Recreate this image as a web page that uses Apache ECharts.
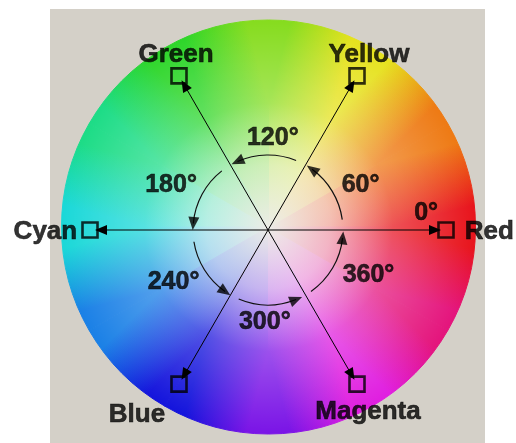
<!DOCTYPE html>
<html>
<head>
<meta charset="utf-8">
<script src="https://cdn.jsdelivr.net/npm/echarts@6/dist/echarts.min.js"></script>
<style>
    html, body {margin: 0; padding: 0; background: #fff;}
    #chart_container {width: 516px; height: 443px;}
</style>
</head>
<body>
<div id="chart_container"></div>
<script>
"use strict";
// hue names and their angles on the wheel (counter-clockwise from the right)
var hueNames = ['Red', 'Yellow', 'Green', 'Cyan', 'Blue', 'Magenta'];
var hueAngles = [0, 60, 120, 180, 240, 300];
// twelve hue stops every 30 degrees round the rim
var wheelColors = ['#e8141c', '#ee7a14', '#e6e21e', '#86dc1e', '#2ed62a', '#1cdc86',
    '#1ad8d8', '#1a80e6', '#1414dc', '#7a14e6', '#e01ee0', '#e4147c'];
// angle labels and the arrowed arcs between the spokes
var degreeLabels = ['0°', '60°', '120°', '180°', '240°', '300°', '360°'];
var arcStarts = [8, 68, 128, 189, 247, 305];
var arcEnds = [54, 114, 175, 235, 292, 354];

// layout (pixels)
var wheelCenter = [268.5, 227], wheelR = 207;
var cx = 268, cy = 230, axisR = 207;
var squareR = 178, arrowR = 167, arcR = 75;
var degreeLabelPos = [[159, 6], [103, 26], [92, 87], [107, 155], [108, 209], [92, 268], [110, 336]];
var nameLabelPos = {
    Red: {position: 'right', distance: 10, offset: [0, 2]},
    Yellow: {position: 'top', distance: 1, offset: [12, 2]},
    Green: {position: 'top', distance: 1, offset: [-3, 2]},
    Cyan: {position: 'left', distance: 4, offset: [0, 2]},
    Blue: {position: 'bottom', distance: 6, offset: [-42, 3]},
    Magenta: {position: 'bottom', distance: 3, offset: [11, 3]}
};

var myChart = echarts.init(document.getElementById('chart_container'));

function rimPoint(deg, r) {
    var a = deg * Math.PI / 180;
    return [wheelCenter[0] + r * Math.cos(a), wheelCenter[1] - r * Math.sin(a)];
}

// wheel slices, each one a linear gradient between two neighbouring hue stops
var step = 360 / wheelColors.length;
var wheelData = wheelColors.map(function (c, i) {
    var p0 = rimPoint(i * step, wheelR * 0.6), p1 = rimPoint((i + 1) * step, wheelR * 0.6);
    var grad = {
        type: 'linear', global: true,
        x: p0[0], y: p0[1], x2: p1[0], y2: p1[1],
        colorStops: [{offset: 0, color: c}, {offset: 1, color: wheelColors[(i + 1) % wheelColors.length]}]
    };
    return {
        value: step,
        itemStyle: {color: grad, borderColor: grad, borderWidth: 1}
    };
});

// arc ring: gaps and drawn segments
var arcData = [];
var last = 0;
for (var i = 0; i < arcStarts.length; i++) {
    arcData.push({value: arcStarts[i] - last, itemStyle: {color: 'transparent'}});
    arcData.push({value: arcEnds[i] - arcStarts[i], itemStyle: {color: '#111'}});
    last = arcEnds[i];
}
arcData.push({value: 360 - last, itemStyle: {color: 'transparent'}});

var series = [
    {
        type: 'pie', silent: true, animation: false, center: wheelCenter, radius: [0, wheelR],
        startAngle: 0, clockwise: false, label: {show: false}, labelLine: {show: false},
        data: wheelData
    },
    {
        type: 'pie', silent: true, animation: false, center: wheelCenter, radius: [0, wheelR],
        label: {show: false}, labelLine: {show: false},
        itemStyle: {borderWidth: 0},
        data: [{
            value: 1,
            itemStyle: {
                color: {
                    type: 'radial', x: 0.5, y: 0.5, r: 0.5,
                    colorStops: [
                        {offset: 0, color: 'rgba(236,236,230,1)'},
                        {offset: 0.3, color: 'rgba(248,248,246,0.7)'},
                        {offset: 0.6, color: 'rgba(255,255,255,0.26)'},
                        {offset: 1, color: 'rgba(255,255,255,0)'}
                    ]
                }
            }
        }]
    },
    {
        type: 'pie', silent: true, animation: false, center: [cx, cy], radius: [arcR - 0.6, arcR + 0.6],
        startAngle: 0, clockwise: false, label: {show: false}, labelLine: {show: false},
        itemStyle: {borderWidth: 0},
        data: arcData
    }
];

// spokes with arrowheads
hueAngles.forEach(function (h) {
    series.push({
        type: 'line', coordinateSystem: 'polar', silent: true, animation: false,
        lineStyle: {color: '#000', width: 1},
        itemStyle: {color: '#000'},
        showSymbol: true,
        data: [
            {value: [0, h], symbol: 'none'},
            {value: [arrowR, h], symbol: 'triangle', symbolSize: [10, 12], symbolRotate: h - 90}
        ]
    });
});

var textStyle = {
    color: '#000', fontFamily: 'Liberation Sans', fontWeight: 'bold',
    textBorderColor: '#000', textBorderWidth: 0.6
};

// squares with colour names
series.push({
    type: 'scatter', coordinateSystem: 'polar', silent: true, animation: false,
    symbol: 'rect', symbolSize: 15,
    itemStyle: {color: 'transparent', borderColor: '#000', borderWidth: 2.6},
    data: hueNames.map(function (n, i) {
        var p = nameLabelPos[n];
        return {
            name: n, value: [squareR, hueAngles[i]],
            label: {position: p.position, distance: p.distance, offset: p.offset}
        };
    }),
    label: echarts.util.extend({show: true, formatter: '{b}', fontSize: 26}, textStyle)
});

// arrowheads on the arcs
series.push({
    type: 'scatter', coordinateSystem: 'polar', silent: true, animation: false,
    symbol: 'triangle', symbolSize: [11, 13],
    itemStyle: {color: '#000'},
    data: arcEnds.map(function (a) {
        return {value: [arcR, a], symbolRotate: a};
    })
});

// degree labels
series.push({
    type: 'scatter', coordinateSystem: 'polar', silent: true, animation: false,
    symbolSize: 0,
    data: degreeLabels.map(function (t, i) {
        return {name: t, value: degreeLabelPos[i]};
    }),
    label: echarts.util.extend({show: true, position: 'inside', formatter: '{b}', fontSize: 25}, textStyle)
});

var option = {
    animation: false,
    graphic: [{
        type: 'rect', z: -10, silent: true,
        shape: {x: 50, y: 9, width: 435, height: 434},
        style: {fill: '#d4d0c8'}
    }],
    polar: {center: [cx, cy], radius: axisR},
    angleAxis: {
        type: 'value', min: 0, max: 360, startAngle: 0, clockwise: false,
        axisLine: {show: false}, axisTick: {show: false}, axisLabel: {show: false}, splitLine: {show: false}
    },
    radiusAxis: {
        type: 'value', min: 0, max: axisR,
        axisLine: {show: false}, axisTick: {show: false}, axisLabel: {show: false}, splitLine: {show: false}
    },
    series: series
};

myChart.setOption(option);
</script>
</body>
</html>
